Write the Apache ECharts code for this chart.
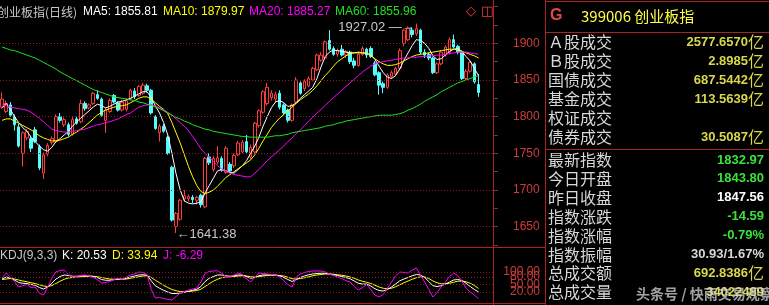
<!DOCTYPE html>
<html><head><meta charset="utf-8">
<script src="https://cdn.jsdelivr.net/npm/echarts/dist/echarts.min.js"></script>
<style>html,body{margin:0;padding:0;background:#000}#c{width:769px;height:305px}</style>
</head><body><div id="c"></div><script>
// [open, close, low, high]
const candles = [
[1813,1824,1811,1833],[1807,1818,1805,1822],[1816,1802,1800,1820],[1800,1789,1781,1803],[1786,1760,1758,1790],
[1750,1778,1732,1780],[1771,1780,1768,1783],[1770,1757,1752,1774],[1782,1766,1764,1786],[1759,1730,1727,1762],
[1723,1748,1715,1751],[1749,1761,1746,1764],[1765,1770,1762,1773],[1766,1800,1764,1803],[1800,1795,1792,1805],
[1789,1796,1786,1799],[1789,1776,1773,1792],[1776,1796,1774,1800],[1797,1791,1789,1800],[1793,1818,1791,1823],
[1818,1811,1808,1821],[1812,1816,1810,1818],[1818,1832,1816,1834],[1830,1825,1823,1836],[1824,1802,1800,1826],
[1795,1809,1778,1812],[1807,1822,1805,1825],[1829,1820,1818,1831],[1819,1809,1807,1821],[1809,1820,1807,1823],
[1810,1822,1807,1825],[1825,1836,1822,1838],[1835,1827,1824,1839],[1829,1841,1827,1843],[1832,1843,1830,1846],
[1842,1836,1833,1845],[1836,1805,1803,1838],[1800,1784,1782,1802],[1778,1787,1766,1790],[1787,1780,1778,1790],
[1772,1750,1748,1774],[1731,1659,1657,1733],[1650,1668,1641.38,1670],[1660,1686,1658,1688],[1688,1692,1684,1700],
[1688,1691,1684,1694],[1690,1687,1682,1693],[1686,1690,1680,1692],[1693,1680,1676,1695],[1677,1743,1675,1745],
[1745,1737,1734,1750],[1728,1743,1725,1746],[1738,1744,1735,1760],[1743,1727,1725,1746],[1724,1757,1722,1760],
[1735,1726,1723,1738],[1733,1747,1730,1750],[1748,1764,1746,1767],[1752,1765,1750,1768],[1766,1752,1750,1775],
[1745,1758,1742,1762],[1752,1791,1749,1793],[1788,1808,1785,1810],[1806,1834,1804,1836],[1818,1840,1815,1846],
[1826,1832,1822,1836],[1824,1830,1820,1834],[1832,1813,1810,1836],[1816,1805,1802,1818],[1809,1795,1792,1811],
[1795,1816,1793,1818],[1820,1850,1818,1854],[1846,1832,1830,1848],[1838,1848,1835,1851],[1842,1852,1840,1855],
[1850,1866,1848,1868],[1864,1884,1862,1886],[1877,1884,1875,1888],[1880,1902,1878,1904],[1904,1892,1890,1918],
[1893,1885,1883,1896],[1885,1890,1882,1893],[1892,1884,1882,1898],[1884,1889,1880,1891],[1888,1875,1872,1890],
[1876,1870,1866,1880],[1870,1885,1868,1888],[1885,1893,1883,1896],[1892,1884,1880,1894],[1893,1882,1880,1896],
[1873,1857,1855,1876],[1860,1843,1830,1862],[1845,1840,1832,1848],[1840,1857,1838,1859],[1855,1860,1852,1863],
[1858,1866,1856,1868],[1866,1890,1864,1893],[1900,1918,1896,1920],[1905,1921,1903,1923],[1918,1912,1908,1922],
[1913,1920,1910,1927.02],[1918,1888,1885,1920],[1888,1884,1880,1892],[1885,1880,1877,1888],[1880,1860,1858,1882],
[1860,1872,1858,1874],[1872,1888,1870,1890],[1885,1895,1882,1897],[1888,1905,1885,1908],[1905,1895,1893,1912],
[1896,1888,1885,1898],[1888,1852,1850,1890],[1852,1862,1849,1865],[1862,1874,1860,1876],[1872,1847.56,1845,1874],
[1843.80,1832.97,1827,1858]
];
const ma5 = [1812,1818,1810,1800,1792,1785,1780,1772,1766,1760,1755,1753,1758,1766,1770,1775,1780,1787,1793,1798,
1803,1808,1813,1817,1815,1812,1814,1817,1820,1821,1823,1825,1828,1831,1834,1834,1826,1815,1805,1792,
1775,1750,1722,1700,1685,1682,1681,1682,1684,1696,1706,1716,1726,1728,1726,1724,1723,1728,1733,1740,
1750,1760,1772,1787,1800,1812,1820,1822,1819,1814,1815,1819,1825,1830,1835,1840,1852,1868,1882,1888,
1891,1890,1889,1888,1887,1887,1888,1887,1886,1884,1878,1869,1860,1854,1852,1856,1865,1877,1887,1897,
1905,1904,1900,1893,1883,1878,1879,1884,1889,1892,1893,1889,1882,1876,1866,1855.81];
const ma10 = [1795,1797,1797,1794,1791,1788,1785,1782,1778,1774,1771,1769,1767,1767,1768,1770,1772,1776,1779,1783,
1787,1792,1797,1802,1806,1809,1811,1813,1814,1815,1816,1819,1822,1825,1827,1827,1824,1819,1814,1810,
1804,1792,1778,1764,1748,1732,1718,1706,1698,1695,1697,1700,1705,1711,1717,1721,1725,1729,1733,1737,
1741,1748,1757,1767,1776,1785,1792,1798,1803,1808,1813,1818,1823,1827,1831,1836,1842,1849,1856,1862,
1869,1875,1879,1883,1886,1887,1887,1887,1887,1884,1879,1875,1872,1870,1870,1871,1873,1876,1879,1882,
1884,1885,1886,1887,1888,1889,1890,1891,1892,1892,1891,1889,1887,1885,1883,1879.97];
const ma20 = [1816,1815,1813,1812,1811,1810,1809,1806,1802,1798,1793,1788,1783,1781,1780,1779,1779,1780,1781,1782,
1783,1785,1787,1789,1790,1792,1793,1795,1797,1800,1803,1805,1809,1813,1815,1816,1816,1815,1812,1809,
1806,1802,1797,1792,1787,1781,1773,1765,1756,1750,1744,1739,1733,1729,1726,1723,1721,1720,1719,1718,
1718,1723,1728,1734,1740,1745,1750,1755,1760,1766,1771,1777,1782,1788,1794,1799,1805,1810,1815,1821,
1826,1831,1836,1841,1846,1851,1856,1861,1865,1869,1872,1874,1875,1876,1877,1878,1879,1880,1880,1881,
1881,1882,1882,1883,1883,1884,1884,1885,1886,1887,1888,1888,1888,1887,1886,1885.27];
const ma60 = [1895,1893,1891,1890,1888,1886,1884,1882,1880,1877,1874,1871,1868,1865,1861,1858,1855,1852,1849,1846,
1843,1840,1837,1835,1833,1831,1829,1827,1826,1825,1824,1823,1822,1820,1819,1817,1816,1813,1811,1808,
1805,1802,1799,1797,1794,1792,1789,1787,1785,1783,1782,1780,1779,1778,1777,1776,1775,1774,1773,1773,
1772,1772,1772,1772,1772,1773,1774,1774,1775,1776,1778,1779,1780,1781,1782,1783,1784,1785,1787,1788,
1789,1791,1792,1794,1795,1796,1797,1798,1799,1800,1801,1802,1802,1802,1802,1803,1804,1806,1809,1811,
1814,1817,1821,1824,1827,1830,1834,1837,1840,1843,1846,1848,1850,1852,1854,1855.96];
const kLine = [72,80,76,68,58,55,54,50,47,38,32,40,55,72,82,88,86,83,83,84,
85,84,82,78,70,67,67,69,72,71,75,80,84,88,89,87,65,45,35,27,
20,14,14,16,19,23,27,31,42,62,75,82,88,88,85,83,85,88,88,82,
75,78,85,88,89,89,88,85,78,70,62,70,78,84,89,92,94,95,95,92,
89,86,82,78,73,64,55,52,52,44,33,26,24,30,40,52,65,72,78,85,
90,88,78,62,45,42,45,52,60,68,70,66,55,42,30,20.53];
const dLine = [70,72,74,72,68,64,61,57,54,49,44,42,46,54,63,71,76,78,80,81,
82,83,83,81,78,75,72,71,71,71,72,75,78,81,84,85,78,67,57,47,
38,30,25,22,21,22,24,26,31,42,53,63,71,77,80,81,82,84,85,84,
81,80,82,84,86,87,87,86,84,79,73,72,74,77,81,85,88,90,92,92,
91,89,87,84,80,75,68,63,59,54,47,40,35,33,35,41,49,57,64,71,
77,81,80,74,64,57,53,53,55,59,63,64,61,55,46,33.94];
const jLine = [76,96,80,62,40,45,50,38,40,15,8,40,75,100,106,108,90,80,82,86,
88,84,78,70,56,58,62,70,75,70,80,88,92,100,98,90,30,-4,-2,-6,
-10,-12,2,16,22,28,32,36,60,95,102,104,105,95,82,80,88,96,90,72,
60,78,96,94,92,90,88,80,65,50,40,80,92,98,102,104,104,104,100,92,
86,80,74,66,60,42,28,38,50,30,8,0,10,35,60,85,100,98,96,108,
116,88,60,30,0,18,40,60,82,96,85,64,35,20,8,-6.29];
const priceTicks = [1650,1700,1750,1800,1850,1900];
const kdjTicks = [20,50,80,100];
const panelTopLabels = ['Ａ股成交','Ｂ股成交','国债成交','基金成交','权证成交','债券成交'];
const panelTopValues = ['2577.6570','2.8985','687.5442','113.5639','','30.5087'];
const panelBottomLabels = ['最新指数','今日开盘','昨日收盘','指数涨跌','指数涨幅','指数振幅','总成交额','总成交量'];
const panelBottomValues = ['1832.97','1843.80','1847.56','-14.59','-0.79%','30.93/1.67%','692.8386','34022489'];
const panelBottomUnits = ['','','','','','','亿',''];
const panelBottomColors = ['#3ce03c','#3ce03c','#ffffff','#3ce03c','#3ce03c','#d8d8d8','#d8d84a','#d8d84a'];

const N = 119;
const cats = Array.from({length: N}, (_, i) => String(i + 1));
const RED = '#ff3c3c', CYAN = '#54fcfc', FRAME = '#a82424', GRIDC = '#8c1c1c';
const LAT = '"Liberation Sans","Noto Sans CJK SC",sans-serif';
const CJK = '"Noto Sans CJK SC",sans-serif';

function T(x, y, text, fill, font, align) {
  return {type:'text', x:x, y:y, silent:true, style:{text:text, fill:fill, font:font, align:align||'left', verticalAlign:'middle'}};
}
function L(x1, y1, x2, y2, c) {
  return {type:'line', silent:true, shape:{x1:x1, y1:y1, x2:x2, y2:y2}, style:{stroke:c||FRAME, lineWidth:1}};
}
const g = [];
g.push(L(0,247.5,545,247.5), L(0,303.5,545,303.5), L(493.5,0,493.5,305), L(545.5,0,545.5,305),
       L(545,1.5,769,1.5), L(545,32.5,769,32.5), L(545,149.5,769,149.5));
g.push(T(-3,12,'创业板指(日线)','#c8c8c8','12px '+CJK));
g.push(T(83,12,'MA5: 1855.81','#ffffff','12px '+LAT));
g.push(T(163,12,'MA10: 1879.97','#ffff00','12px '+LAT));
g.push(T(249,12,'MA20: 1885.27','#ff00ff','12px '+LAT));
g.push(T(335,12,'MA60: 1855.96','#20e020','12px '+LAT));
g.push(T(466,12,'◇',RED,'13px "DejaVu Sans"'));
g.push(T(481,12,'◫',RED,'13px "DejaVu Sans"'));
g.push(T(0,256,'KDJ(9,3,3)','#c8c8c8','12px '+LAT));
g.push(T(62,256,'K: 20.53','#ffffff','12px '+LAT));
g.push(T(112,256,'D: 33.94','#ffff00','12px '+LAT));
g.push(T(163,256,'J: -6.29','#ff00ff','12px '+LAT));
g.push(T(550,16,'G','#e04848','bold 16px '+LAT));
g.push(T(581,16,'399006 创业板指','#ffff48','15px '+CJK));
panelTopLabels.forEach((s, k) => {
  const y = 42 + 19 * k;
  g.push(T(548, y, s, '#d8d8d8', '16px '+CJK));
  if (panelTopValues[k]) {
    g.push({type:'text', x:764, y:y, silent:true, style:{text:'{n|'+panelTopValues[k]+'}{u|亿}', align:'right', verticalAlign:'middle',
      rich:{n:{fill:'#d8d84a', font:'bold 13px '+LAT}, u:{fill:'#d8d84a', font:'16px '+CJK}}}});
  }
});
panelBottomLabels.forEach((s, k) => {
  const y = 160 + 18.9 * k;
  g.push(T(548, y, s, '#d8d8d8', '16px '+CJK));
  const u = panelBottomUnits[k];
  g.push({type:'text', x:764, y:y, silent:true, style:{text:'{n|'+panelBottomValues[k]+'}' + (u ? '{u|'+u+'}' : ''), align:'right', verticalAlign:'middle',
    rich:{n:{fill:panelBottomColors[k], font:'bold 13px '+LAT}, u:{fill:panelBottomColors[k], font:'16px '+CJK}}}});
});
g.push({type:'text', x:636, y:294, silent:true, z:100, style:{text:'头条号 / 快雨交易观察', fill:'rgba(215,215,215,0.75)', font:'bold 14px '+CJK, verticalAlign:'middle',
  shadowColor:'rgba(0,0,0,0.8)', shadowBlur:2}});

const dotted = {color: GRIDC, type: [1, 2], width: 1};
const option = {
  backgroundColor: '#000',
  animation: false,
  graphic: g,
  grid: [
    {left: 0, width: 493, top: 6.667, height: 238.333},
    {left: 0, width: 493, top: 267, height: 35}
  ],
  xAxis: [
    {type:'category', data:cats, gridIndex:0, show:false, boundaryGap:true},
    {type:'category', data:cats, gridIndex:1, show:false, boundaryGap:true}
  ],
  yAxis: [
    {type:'value', gridIndex:0, position:'right', min:1625, max:1950, interval:25,
     axisLine:{show:false}, splitLine:{show:false},
     axisTick:{show:true, length:5, lineStyle:{color:FRAME}},
     axisLabel:{color:'#d03c3c', fontSize:12, margin:20, fontFamily:'Liberation Sans',
       formatter: v => (priceTicks.indexOf(v) >= 0 ? String(v) : '')}},
    {type:'value', gridIndex:1, position:'right', min:-20, max:120, interval:10,
     axisLine:{show:false}, splitLine:{show:false}, axisTick:{show:false},
     axisLabel:{color:'#d03c3c', fontSize:12, margin:47, align:'right', fontFamily:'Liberation Sans',
       formatter: v => (kdjTicks.indexOf(v) >= 0 ? v.toFixed(2) : '')}}
  ],
  series: [
    {type:'candlestick', xAxisIndex:0, yAxisIndex:0, data:candles, barWidth:3,
     itemStyle:{color:'#000', color0:CYAN, borderColor:RED, borderColor0:CYAN, borderWidth:1},
     markLine:{silent:true, symbol:['none','none'], label:{show:false}, lineStyle:dotted,
       data: priceTicks.map(v => ({yAxis: v}))},
     markPoint:{silent:true, symbol:'circle', symbolSize:1, itemStyle:{color:'rgba(0,0,0,0)'},
       data:[
         {coord:[100, 1927.02], label:{show:true, position:'left', distance:1, offset:[0,4], formatter:'1927.02 —→', color:'#c8c8c8', fontSize:13, fontFamily:'Liberation Sans'}},
         {coord:[42, 1641.38], label:{show:true, position:'right', distance:0, offset:[0,1], formatter:'←1641.38', color:'#c8c8c8', fontSize:13, fontFamily:'Liberation Sans'}}
       ]}},
    {type:'line', name:'MA5', data:ma5, symbol:'none', lineStyle:{color:'#ffffff', width:1}, z:3},
    {type:'line', name:'MA10', data:ma10, symbol:'none', lineStyle:{color:'#ffff00', width:1}, z:3},
    {type:'line', name:'MA20', data:ma20, symbol:'none', lineStyle:{color:'#ff00ff', width:1}, z:3},
    {type:'line', name:'MA60', data:ma60, symbol:'none', lineStyle:{color:'#20e020', width:1}, z:3},
    {type:'line', xAxisIndex:1, yAxisIndex:1, data:dLine, symbol:'none', lineStyle:{color:'#ffff00', width:1},
     markLine:{silent:true, symbol:['none','none'], label:{show:false}, lineStyle:dotted,
       data: kdjTicks.map(v => ({yAxis: v}))}},
    {type:'line', xAxisIndex:1, yAxisIndex:1, data:kLine, symbol:'none', lineStyle:{color:'#ffffff', width:1}},
    {type:'line', xAxisIndex:1, yAxisIndex:1, data:jLine, symbol:'none', lineStyle:{color:'#ff00ff', width:1}}
  ]
};
echarts.init(document.getElementById('c')).setOption(option);
</script></body></html>
